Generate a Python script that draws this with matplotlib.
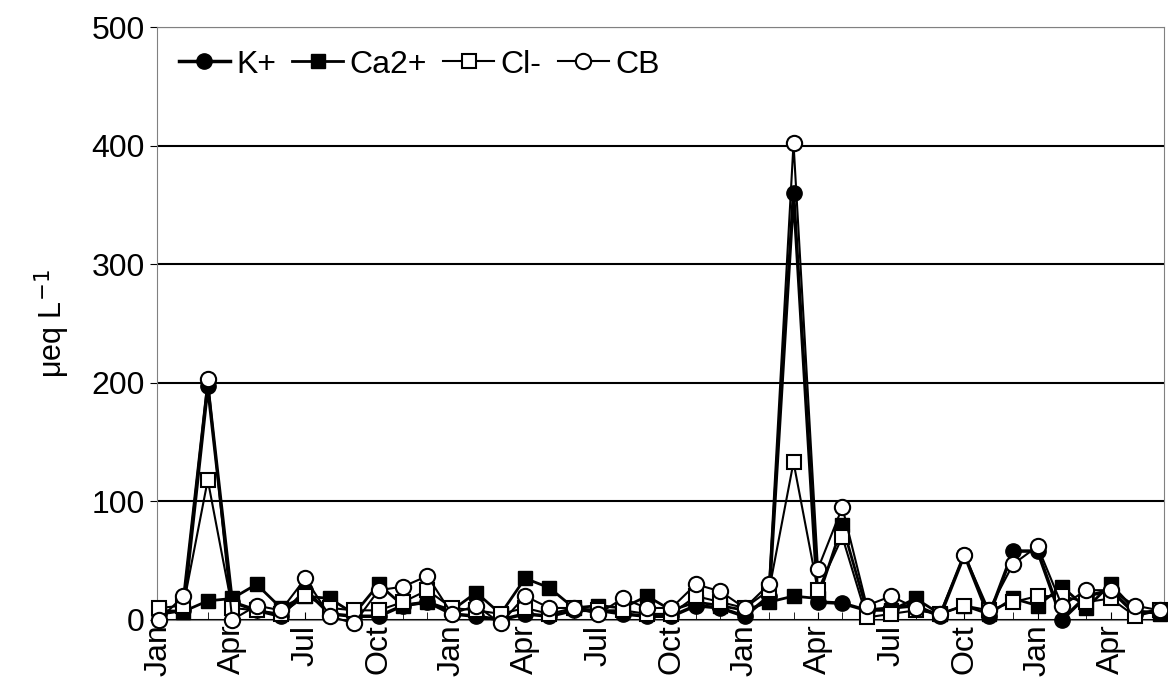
import matplotlib.pyplot as plt

plt.rcParams["font.family"] = ["Liberation Sans", "DejaVu Sans"]

months = ["Jan", "Apr", "Jul", "Oct"] * 4
k_plus = [5, 8, 197, 15, 8, 3, 25, 5, 3, 3, 12, 15, 5, 3, 0, 5, 3, 8, 8, 5, 3, 3,
          12, 10, 3, 20, 360, 15, 14, 8, 10, 12, 3, 55, 3, 58, 58, 0, 20, 25, 5, 8]
ca2_plus = [8, 7, 16, 18, 30, 10, 20, 18, 5, 30, 12, 15, 8, 23, 5, 35, 27, 10, 12, 10, 20, 8,
            15, 12, 8, 15, 20, 18, 80, 8, 8, 18, 5, 12, 5, 18, 12, 28, 10, 30, 8, 5]
cl_minus = [10, 12, 118, 10, 8, 5, 20, 10, 8, 8, 15, 25, 10, 8, 5, 10, 5, 10, 8, 8, 5, 5,
            20, 15, 10, 25, 133, 25, 70, 2, 5, 8, 5, 12, 8, 15, 20, 20, 15, 18, 3, 8]
cb = [0, 20, 203, 0, 12, 8, 35, 3, -3, 25, 28, 37, 5, 12, -3, 20, 10, 10, 5, 18, 10, 10,
      30, 24, 10, 30, 402, 43, 95, 12, 20, 10, 5, 55, 8, 47, 62, 12, 25, 25, 12, 8]

x = list(range(len(k_plus)))

fig = plt.figure(figsize=(11.68, 6.98), dpi=100)
ax = fig.add_axes([0.134, 0.112, 0.863, 0.849])

ms = 11
ax.plot(x, k_plus, "-o", color="black", lw=2.5, ms=ms, label="K+", clip_on=False, zorder=3)
ax.plot(x, ca2_plus, "-s", color="black", lw=2, ms=ms - 1, label="Ca2+", clip_on=False, zorder=3)
ax.plot(x, cl_minus, "-s", color="black", mfc="white", lw=1.5, ms=ms - 1, mew=1.5,
        label="Cl-", clip_on=False, zorder=4)
ax.plot(x, cb, "-o", color="black", mfc="white", lw=1.5, ms=ms, mew=1.5,
        label="CB", clip_on=False, zorder=5)

ax.set_ylim(0, 500)
ax.set_xlim(-0.1, 41.2)
ax.set_yticks(range(0, 501, 100))
ax.yaxis.grid(True, color="black", lw=1.5)
ax.set_axisbelow(True)
ax.set_xticks(x, minor=True)
ax.set_xticks(range(0, 42, 3))
ax.set_xticklabels(months[:14], rotation=90)
ax.tick_params(axis="both", labelsize=23)
ax.tick_params(axis="x", which="both", direction="in", length=6)
ax.tick_params(axis="y", direction="out", length=5)
ax.set_ylabel("μeq L$^{-1}$", fontsize=22, labelpad=14)
for s in ax.spines.values():
    s.set_color("gray")

ax.legend(loc="upper left", ncol=4, frameon=False, fontsize=23, handlelength=1.6,
          handletextpad=0.2, columnspacing=0.5, borderaxespad=0.3)

fig.savefig("out.png")
